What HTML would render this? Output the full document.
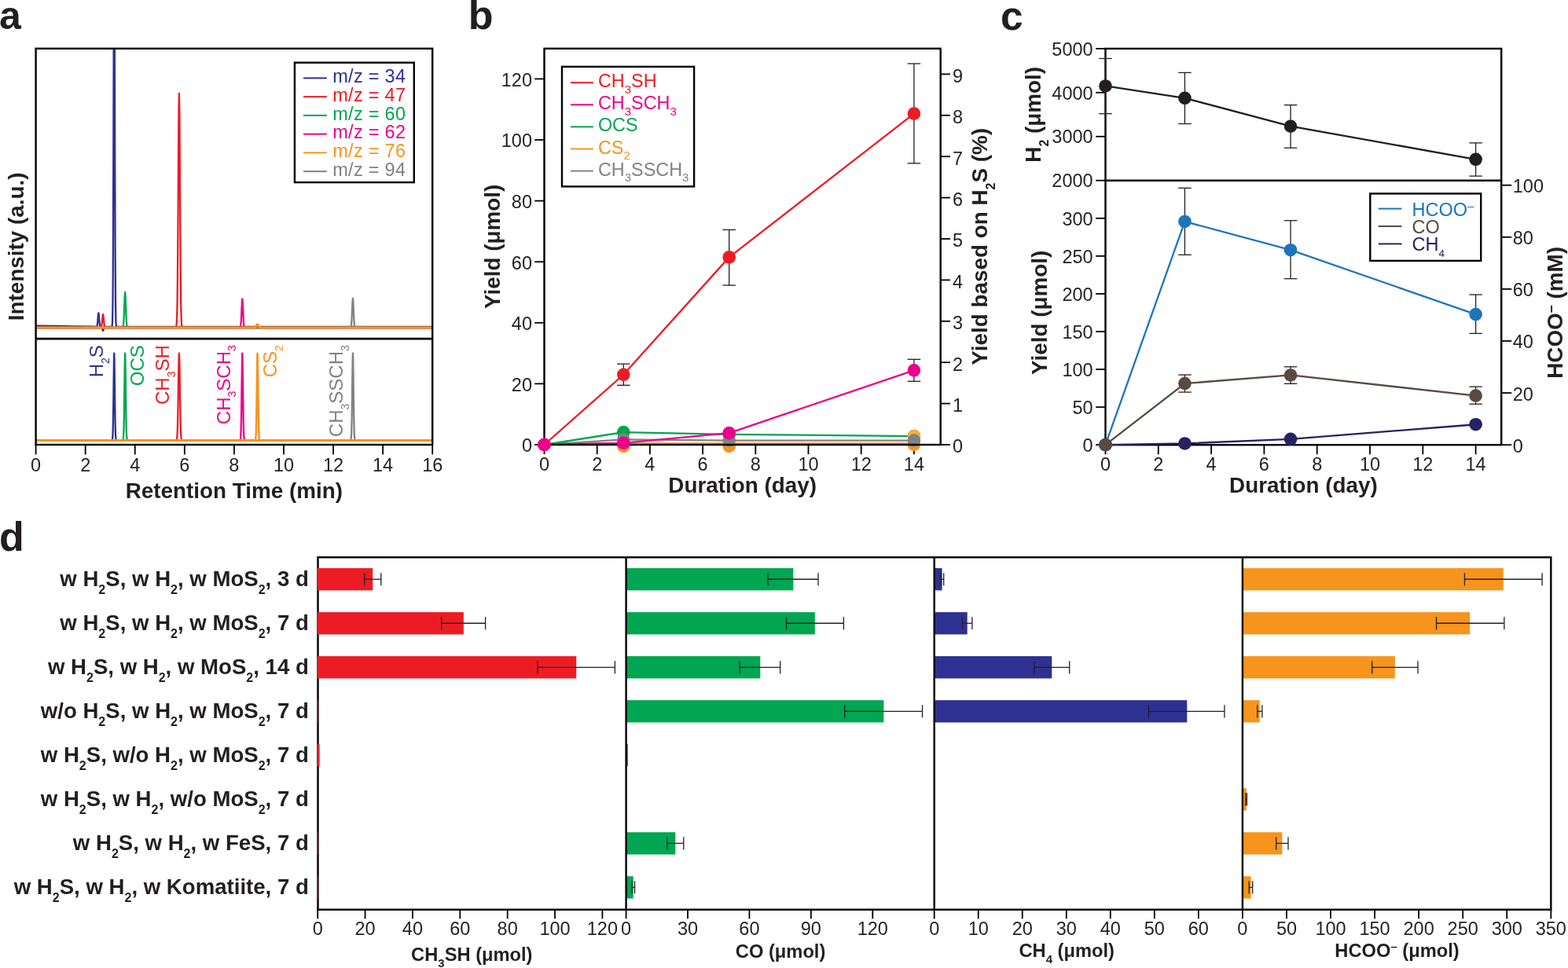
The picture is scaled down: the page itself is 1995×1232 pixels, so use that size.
<!DOCTYPE html>
<html><head><meta charset="utf-8"><title>Figure</title>
<style>html,body{margin:0;padding:0;background:#fff;} svg{display:block;} text{font-family:'Liberation Sans', sans-serif;}</style>
</head><body>
<svg width="1995" height="1232" viewBox="0 0 1995 1232">
<rect width="1995" height="1232" fill="#fff"/>
<text x="-1" y="37" font-size="50" text-anchor="start" font-weight="bold" fill="#231F20" >a</text>
<text x="595.8" y="36.6" font-size="52" text-anchor="start" font-weight="bold" fill="#231F20" >b</text>
<text x="1273" y="37.6" font-size="51.5" text-anchor="start" font-weight="bold" fill="#231F20" >c</text>
<text x="-1.1" y="701.2" font-size="52" text-anchor="start" font-weight="bold" fill="#231F20" >d</text>
<g>
<clipPath id="ca"><rect x="45.6" y="61.8" width="504.6" height="369.4"/></clipPath>
<clipPath id="cb"><rect x="45.6" y="431.2" width="504.6" height="134.8"/></clipPath>
<g clip-path="url(#ca)">
<polyline points="45.6,414.6 70.6,414.99 95.6,415.38 120.59,415.77 120.6,415.77 120.97,415.77 121.36,415.78 121.74,415.78 122.13,415.79 122.51,415.77 122.89,415.67 123.28,415.27 123.66,414.12 124.05,411.52 124.43,407.31 124.81,402.38 125.2,398.82 125.39,398.34 125.58,398.83 125.97,402.4 126.27,406.3 126.35,407.34 126.65,410.8 126.73,411.56 127.03,413.73 127.12,414.18 127.42,415.17 127.5,415.33 127.8,415.69 127.89,415.75 128.19,415.85 128.27,415.87 128.57,415.92 128.65,415.94 128.95,416.05 129.04,416.1 129.34,416.39 129.42,416.51 129.72,417.12 129.81,417.37 130.11,418.36 130.19,418.66 130.49,419.78 130.87,420.78 131.07,420.93 131.26,420.79 131.64,419.81 132.03,418.37 132.41,417.17 132.79,416.45 133.18,416.11 133.56,416.01 133.95,415.98 134.33,415.98 134.71,415.99 135.1,415.99 135.48,416 135.87,416 140.76,416 141.15,416 141.54,416 141.93,415.97 142.32,415.77 142.72,414.37 143.11,407.74 143.5,384 143.89,321.38 144.28,202.52 144.67,48.49 145.06,-66.79 145.26,-84 145.45,-67.96 145.6,-34.76 145.85,49.64 146.24,203.64 146.63,322.07 147.02,384.29 147.41,407.83 147.8,414.4 148.19,415.76 148.58,415.97 148.98,416 149.37,416 149.76,416 170.6,416 195.6,416 220.6,416 245.6,416 270.6,416 295.6,416 320.6,416 345.6,416 370.6,416 395.6,416 420.6,416 445.6,416 470.6,416 495.6,416 520.6,416 545.6,416 550.2,416" fill="none" stroke="#2E3192" stroke-width="2.3" stroke-linejoin="round"/>
<polyline points="45.6,417 125.67,417 126.05,417 126.44,417 126.82,417 127.21,417 127.6,416.99 127.98,416.95 128.37,416.81 128.75,416.38 129.14,415.28 129.52,413.12 129.91,409.56 130.3,405.17 130.68,401.5 131.07,400 131.07,400 131.45,401.47 131.84,405.25 132.22,409.52 132.61,413.09 133,415.31 133.38,416.38 133.77,416.81 134.15,416.95 134.54,416.99 134.92,417 135.31,417 135.7,417 136.08,417 136.47,417 221.29,417 221.67,417 222.06,417 222.45,417 222.84,416.99 223.23,416.96 223.62,416.84 224,416.42 224.39,415.09 224.78,411.48 225.17,402.89 225.56,385.18 225.95,353.75 226.33,307.53 226.72,247.21 227.11,184.76 227.5,136.86 227.89,119 227.89,119 228.27,136.55 228.66,184.24 229.05,246.64 229.44,307.04 229.83,354.41 230.22,385.58 230.6,402.77 230.99,411.43 231.38,415.08 231.77,416.41 232.16,416.84 232.55,416.96 232.93,416.99 233.32,417 233.71,417 234.1,417 234.49,417 550.2,417" fill="none" stroke="#ED1C24" stroke-width="2.3" stroke-linejoin="round"/>
<polyline points="45.6,417 153.44,417 153.83,417 154.22,417 154.61,417 155.01,417 155.4,416.98 155.79,416.91 156.19,416.63 156.58,415.79 156.97,413.65 157.37,408.99 157.76,401.21 158.15,390.71 158.55,379.77 158.94,372.94 159.13,372 159.33,372.94 159.72,379.77 160.12,390.71 160.51,401.21 160.9,408.99 161.3,413.65 161.69,415.79 162.08,416.63 162.48,416.91 162.87,416.98 163.26,417 163.66,417 164.05,417 164.44,417 164.84,417 550.2,417" fill="none" stroke="#00A651" stroke-width="2.3" stroke-linejoin="round"/>
<polyline points="45.6,417 302.91,417 303.29,417 303.68,417 304.06,417 304.45,417 304.84,416.98 305.22,416.9 305.61,416.59 305.99,415.67 306.38,413.32 306.76,408.67 307.15,401.03 307.54,391.62 307.92,383.73 308.31,380.5 308.31,380.5 308.69,383.65 309.08,391.75 309.46,400.93 309.85,408.6 310.24,413.36 310.62,415.66 311.01,416.6 311.39,416.9 311.78,416.98 312.16,417 312.55,417 312.94,417 313.32,417 313.71,417 550.2,417" fill="none" stroke="#EC008C" stroke-width="2.3" stroke-linejoin="round"/>
<polyline points="45.6,417 443.56,417 443.95,417 444.34,417 444.72,417 445.11,417 445.49,416.98 445.88,416.9 446.26,416.59 446.65,415.63 447.04,413.21 447.42,408.45 447.81,400.62 448.19,391.25 448.58,382.96 448.96,379.7 448.96,379.7 449.35,382.97 449.74,391.26 450.12,400.64 450.51,408.46 450.89,413.22 451.28,415.64 451.66,416.58 452.05,416.9 452.44,416.98 452.82,417 453.21,417 453.59,417 453.98,417 454.36,417 550.2,417" fill="none" stroke="#808285" stroke-width="2.3" stroke-linejoin="round"/>
<polyline points="45.6,417 318.55,417 318.94,417 319.33,417 319.72,417 320.11,417 320.5,417 320.89,417 321.28,417 321.68,417 322.07,416.99 322.46,416.99 322.85,416.97 323.24,416.93 323.63,416.87 324.02,416.75 324.41,416.55 324.81,416.24 325.2,415.82 325.59,415.29 325.98,414.68 326.37,414.06 326.76,413.51 327.15,413.14 327.55,413 327.55,413 327.94,413.14 328.33,413.51 328.72,414.06 329.11,414.68 329.5,415.29 329.89,415.82 330.28,416.24 330.68,416.55 331.07,416.75 331.46,416.87 331.85,416.93 332.24,416.97 332.63,416.99 333.02,416.99 333.41,417 333.81,417 334.2,417 334.59,417 334.98,417 335.37,417 335.76,417 336.15,417 336.55,417 550.2,417" fill="none" stroke="#F7941D" stroke-width="3.0" stroke-linejoin="round"/>
</g>
<g clip-path="url(#cb)">
<polyline points="45.6,560.4 140.76,560.4 141.15,560.4 141.54,560.4 141.93,560.39 142.32,560.35 142.72,560.04 143.11,558.57 143.5,553.31 143.89,539.43 144.28,513.09 144.67,478.96 145.06,453.41 145.26,449.6 145.45,453.15 145.85,479.22 146.24,513.34 146.63,539.58 147.02,553.37 147.41,558.59 147.8,560.04 148.19,560.35 148.58,560.39 148.98,560.4 149.37,560.4 149.76,560.4 550.2,560.4" fill="none" stroke="#2E3192" stroke-width="2.3" stroke-linejoin="round"/>
<polyline points="45.6,560.4 154.34,560.4 154.72,560.4 155.1,560.4 155.49,560.4 155.87,560.37 156.25,560.23 156.64,559.54 157.02,557.04 157.41,549.56 157.79,533.44 158.18,506.06 158.56,474.82 158.94,452.84 159.13,449.6 159.33,452.84 159.71,474.82 160.09,506.06 160.48,533.44 160.86,549.56 161.25,557.04 161.63,559.54 162.02,560.23 162.4,560.37 162.78,560.4 163.17,560.4 163.55,560.4 163.94,560.4 550.2,560.4" fill="none" stroke="#00A651" stroke-width="2.3" stroke-linejoin="round"/>
<polyline points="45.6,560.4 221.89,560.4 222.27,560.4 222.66,560.4 223.05,560.4 223.44,560.39 223.82,560.37 224.21,560.27 224.6,559.9 224.98,558.78 225.37,555.73 225.76,548.86 226.14,536.3 226.53,516.26 226.92,490.96 227.31,466.58 227.69,451.72 227.89,449.6 228.08,451.65 228.47,466.93 228.85,490.73 229.24,516.05 229.63,536.15 230.02,549.01 230.4,555.69 230.79,558.76 231.18,559.91 231.56,560.27 231.95,560.37 232.34,560.39 232.73,560.4 233.11,560.4 233.5,560.4 233.89,560.4 550.2,560.4" fill="none" stroke="#ED1C24" stroke-width="2.3" stroke-linejoin="round"/>
<polyline points="45.6,560.4 303.51,560.4 303.89,560.4 304.28,560.4 304.66,560.4 305.04,560.37 305.43,560.23 305.81,559.55 306.2,556.95 306.58,549.63 306.96,533.57 307.35,506.26 307.73,475 308.12,452.6 308.31,449.6 308.5,452.77 308.88,474.64 309.27,506.68 309.65,533.3 310.04,549.78 310.42,557.01 310.8,559.54 311.19,560.23 311.57,560.37 311.96,560.4 312.34,560.4 312.72,560.4 313.11,560.4 550.2,560.4" fill="none" stroke="#EC008C" stroke-width="2.3" stroke-linejoin="round"/>
<polyline points="45.6,560.4 444.16,560.4 444.55,560.4 444.93,560.4 445.32,560.4 445.7,560.37 446.08,560.23 446.47,559.54 446.85,557.03 447.24,549.55 447.62,533.42 448,506.84 448.39,474.79 448.77,452.83 448.96,449.6 449.16,452.86 449.54,474.85 449.92,506.09 450.31,533.46 450.69,549.57 451.08,557.04 451.46,559.55 451.84,560.23 452.23,560.37 452.61,560.4 453,560.4 453.38,560.4 453.76,560.4 550.2,560.4" fill="none" stroke="#808285" stroke-width="2.3" stroke-linejoin="round"/>
<polyline points="45.6,560.4 322.75,560.4 323.13,560.4 323.51,560.4 323.9,560.4 324.28,560.37 324.67,560.23 325.05,559.54 325.43,557.04 325.82,549.57 326.2,533.45 326.59,506.08 326.97,474.84 327.35,452.85 327.55,449.6 327.74,452.83 328.12,474.8 328.51,506.85 328.89,533.42 329.27,549.56 329.66,557.03 330.04,559.54 330.43,560.23 330.81,560.37 331.19,560.4 331.58,560.4 331.96,560.4 332.35,560.4 550.2,560.4" fill="none" stroke="#F7941D" stroke-width="2.4" stroke-linejoin="round"/>
<line x1="45.6" y1="560.4" x2="550.2" y2="560.4" stroke="#F7941D" stroke-width="3"/>
</g>
<rect x="45.6" y="61.8" width="504.6" height="504.2" fill="none" stroke="#000" stroke-width="2.4"/>
<line x1="45.6" y1="431.2" x2="550.2" y2="431.2" stroke="#000" stroke-width="2.8" />
<line x1="45.6" y1="566" x2="45.6" y2="578.5" stroke="#000" stroke-width="1.8" />
<text x="45.6" y="599.7" font-size="23.5" text-anchor="middle" font-weight="normal" fill="#231F20" >0</text>
<line x1="108.68" y1="566" x2="108.68" y2="578.5" stroke="#000" stroke-width="1.8" />
<text x="108.68" y="599.7" font-size="23.5" text-anchor="middle" font-weight="normal" fill="#231F20" >2</text>
<line x1="171.75" y1="566" x2="171.75" y2="578.5" stroke="#000" stroke-width="1.8" />
<text x="171.75" y="599.7" font-size="23.5" text-anchor="middle" font-weight="normal" fill="#231F20" >4</text>
<line x1="234.83" y1="566" x2="234.83" y2="578.5" stroke="#000" stroke-width="1.8" />
<text x="234.83" y="599.7" font-size="23.5" text-anchor="middle" font-weight="normal" fill="#231F20" >6</text>
<line x1="297.9" y1="566" x2="297.9" y2="578.5" stroke="#000" stroke-width="1.8" />
<text x="297.9" y="599.7" font-size="23.5" text-anchor="middle" font-weight="normal" fill="#231F20" >8</text>
<line x1="360.98" y1="566" x2="360.98" y2="578.5" stroke="#000" stroke-width="1.8" />
<text x="360.98" y="599.7" font-size="23.5" text-anchor="middle" font-weight="normal" fill="#231F20" >10</text>
<line x1="424.05" y1="566" x2="424.05" y2="578.5" stroke="#000" stroke-width="1.8" />
<text x="424.05" y="599.7" font-size="23.5" text-anchor="middle" font-weight="normal" fill="#231F20" >12</text>
<line x1="487.13" y1="566" x2="487.13" y2="578.5" stroke="#000" stroke-width="1.8" />
<text x="487.13" y="599.7" font-size="23.5" text-anchor="middle" font-weight="normal" fill="#231F20" >14</text>
<line x1="550.2" y1="566" x2="550.2" y2="578.5" stroke="#000" stroke-width="1.8" />
<text x="550.2" y="599.7" font-size="23.5" text-anchor="middle" font-weight="normal" fill="#231F20" >16</text>
<text x="297.9" y="634.1" font-size="27.85" text-anchor="middle" font-weight="bold" fill="#231F20" >Retention Time (min)</text>
<text transform="translate(30.3,313.9) rotate(-90)" font-size="27.85" text-anchor="middle" font-weight="bold" fill="#231F20" >Intensity (a.u.)</text>
<text transform="translate(131.3,439.2) rotate(-90)" font-size="24" text-anchor="end" font-weight="normal" fill="#2E3192" >H<tspan font-size="14" dy="8">2</tspan><tspan dy="-8">S</tspan></text>
<text transform="translate(183.2,439.2) rotate(-90)" font-size="24" text-anchor="end" font-weight="normal" fill="#00A651" >OCS</text>
<text transform="translate(215.2,439.2) rotate(-90)" font-size="24" text-anchor="end" font-weight="normal" fill="#ED1C24" >CH<tspan font-size="14" dy="7.5">3</tspan><tspan dy="-7.5">SH</tspan></text>
<text transform="translate(292.8,439.2) rotate(-90)" font-size="24" text-anchor="end" font-weight="normal" fill="#EC008C" >CH<tspan font-size="14" dy="7.5">3</tspan><tspan dy="-7.5">SCH<tspan font-size="14" dy="7.5">3</tspan></tspan></text>
<text transform="translate(352,439.2) rotate(-90)" font-size="24" text-anchor="end" font-weight="normal" fill="#F7941D" >CS<tspan font-size="14" dy="8">2</tspan></text>
<text transform="translate(436.3,439.2) rotate(-90)" font-size="24" text-anchor="end" font-weight="normal" fill="#808285" >CH<tspan font-size="14" dy="7.5">3</tspan><tspan dy="-7.5">SSCH<tspan font-size="14" dy="7.5">3</tspan></tspan></text>
<rect x="374.9" y="79.7" width="151.89999999999998" height="152.39999999999998" fill="#fff" stroke="#000" stroke-width="2.4"/>
<line x1="386" y1="99.4" x2="415.8" y2="99.4" stroke="#2E3192" stroke-width="2.0" />
<text x="423.2" y="105" font-size="23.5" text-anchor="start" font-weight="normal" fill="#2E3192" letter-spacing="0.3">m/z = 34</text>
<line x1="386" y1="123.15" x2="415.8" y2="123.15" stroke="#ED1C24" stroke-width="2.0" />
<text x="423.2" y="128.75" font-size="23.5" text-anchor="start" font-weight="normal" fill="#ED1C24" letter-spacing="0.3">m/z = 47</text>
<line x1="386" y1="146.9" x2="415.8" y2="146.9" stroke="#00A651" stroke-width="2.0" />
<text x="423.2" y="152.5" font-size="23.5" text-anchor="start" font-weight="normal" fill="#00A651" letter-spacing="0.3">m/z = 60</text>
<line x1="386" y1="170.65" x2="415.8" y2="170.65" stroke="#EC008C" stroke-width="2.0" />
<text x="423.2" y="176.25" font-size="23.5" text-anchor="start" font-weight="normal" fill="#EC008C" letter-spacing="0.3">m/z = 62</text>
<line x1="386" y1="194.4" x2="415.8" y2="194.4" stroke="#F7941D" stroke-width="2.0" />
<text x="423.2" y="200" font-size="23.5" text-anchor="start" font-weight="normal" fill="#F7941D" letter-spacing="0.3">m/z = 76</text>
<line x1="386" y1="218.15" x2="415.8" y2="218.15" stroke="#808285" stroke-width="2.0" />
<text x="423.2" y="223.75" font-size="23.5" text-anchor="start" font-weight="normal" fill="#808285" letter-spacing="0.3">m/z = 94</text>
</g>
<line x1="680.2" y1="566" x2="692.5" y2="566" stroke="#000" stroke-width="1.8" />
<text x="677" y="575.4" font-size="23.5" text-anchor="end" font-weight="normal" fill="#231F20" >0</text>
<line x1="680.2" y1="488.4" x2="692.5" y2="488.4" stroke="#000" stroke-width="1.8" />
<text x="677" y="497.8" font-size="23.5" text-anchor="end" font-weight="normal" fill="#231F20" >20</text>
<line x1="680.2" y1="410.8" x2="692.5" y2="410.8" stroke="#000" stroke-width="1.8" />
<text x="677" y="420.2" font-size="23.5" text-anchor="end" font-weight="normal" fill="#231F20" >40</text>
<line x1="680.2" y1="333.2" x2="692.5" y2="333.2" stroke="#000" stroke-width="1.8" />
<text x="677" y="342.6" font-size="23.5" text-anchor="end" font-weight="normal" fill="#231F20" >60</text>
<line x1="680.2" y1="255.6" x2="692.5" y2="255.6" stroke="#000" stroke-width="1.8" />
<text x="677" y="265" font-size="23.5" text-anchor="end" font-weight="normal" fill="#231F20" >80</text>
<line x1="680.2" y1="178" x2="692.5" y2="178" stroke="#000" stroke-width="1.8" />
<text x="677" y="187.4" font-size="23.5" text-anchor="end" font-weight="normal" fill="#231F20" >100</text>
<line x1="680.2" y1="100.4" x2="692.5" y2="100.4" stroke="#000" stroke-width="1.8" />
<text x="677" y="109.8" font-size="23.5" text-anchor="end" font-weight="normal" fill="#231F20" >120</text>
<line x1="1196.7" y1="566" x2="1209" y2="566" stroke="#000" stroke-width="1.8" />
<text x="1212.1" y="576.4" font-size="23.5" text-anchor="start" font-weight="normal" fill="#231F20" >0</text>
<line x1="1196.7" y1="513.6" x2="1209" y2="513.6" stroke="#000" stroke-width="1.8" />
<text x="1212.1" y="524" font-size="23.5" text-anchor="start" font-weight="normal" fill="#231F20" >1</text>
<line x1="1196.7" y1="461.2" x2="1209" y2="461.2" stroke="#000" stroke-width="1.8" />
<text x="1212.1" y="471.6" font-size="23.5" text-anchor="start" font-weight="normal" fill="#231F20" >2</text>
<line x1="1196.7" y1="408.8" x2="1209" y2="408.8" stroke="#000" stroke-width="1.8" />
<text x="1212.1" y="419.2" font-size="23.5" text-anchor="start" font-weight="normal" fill="#231F20" >3</text>
<line x1="1196.7" y1="356.4" x2="1209" y2="356.4" stroke="#000" stroke-width="1.8" />
<text x="1212.1" y="366.8" font-size="23.5" text-anchor="start" font-weight="normal" fill="#231F20" >4</text>
<line x1="1196.7" y1="304" x2="1209" y2="304" stroke="#000" stroke-width="1.8" />
<text x="1212.1" y="314.4" font-size="23.5" text-anchor="start" font-weight="normal" fill="#231F20" >5</text>
<line x1="1196.7" y1="251.6" x2="1209" y2="251.6" stroke="#000" stroke-width="1.8" />
<text x="1212.1" y="262" font-size="23.5" text-anchor="start" font-weight="normal" fill="#231F20" >6</text>
<line x1="1196.7" y1="199.2" x2="1209" y2="199.2" stroke="#000" stroke-width="1.8" />
<text x="1212.1" y="209.6" font-size="23.5" text-anchor="start" font-weight="normal" fill="#231F20" >7</text>
<line x1="1196.7" y1="146.8" x2="1209" y2="146.8" stroke="#000" stroke-width="1.8" />
<text x="1212.1" y="157.2" font-size="23.5" text-anchor="start" font-weight="normal" fill="#231F20" >8</text>
<line x1="1196.7" y1="94.4" x2="1209" y2="94.4" stroke="#000" stroke-width="1.8" />
<text x="1212.1" y="104.8" font-size="23.5" text-anchor="start" font-weight="normal" fill="#231F20" >9</text>
<line x1="692.5" y1="566" x2="692.5" y2="578.2" stroke="#000" stroke-width="1.8" />
<text x="692.5" y="599" font-size="23.5" text-anchor="middle" font-weight="normal" fill="#231F20" >0</text>
<line x1="759.7" y1="566" x2="759.7" y2="578.2" stroke="#000" stroke-width="1.8" />
<text x="759.7" y="599" font-size="23.5" text-anchor="middle" font-weight="normal" fill="#231F20" >2</text>
<line x1="826.9" y1="566" x2="826.9" y2="578.2" stroke="#000" stroke-width="1.8" />
<text x="826.9" y="599" font-size="23.5" text-anchor="middle" font-weight="normal" fill="#231F20" >4</text>
<line x1="894.1" y1="566" x2="894.1" y2="578.2" stroke="#000" stroke-width="1.8" />
<text x="894.1" y="599" font-size="23.5" text-anchor="middle" font-weight="normal" fill="#231F20" >6</text>
<line x1="961.3" y1="566" x2="961.3" y2="578.2" stroke="#000" stroke-width="1.8" />
<text x="961.3" y="599" font-size="23.5" text-anchor="middle" font-weight="normal" fill="#231F20" >8</text>
<line x1="1028.5" y1="566" x2="1028.5" y2="578.2" stroke="#000" stroke-width="1.8" />
<text x="1028.5" y="599" font-size="23.5" text-anchor="middle" font-weight="normal" fill="#231F20" >10</text>
<line x1="1095.7" y1="566" x2="1095.7" y2="578.2" stroke="#000" stroke-width="1.8" />
<text x="1095.7" y="599" font-size="23.5" text-anchor="middle" font-weight="normal" fill="#231F20" >12</text>
<line x1="1162.9" y1="566" x2="1162.9" y2="578.2" stroke="#000" stroke-width="1.8" />
<text x="1162.9" y="599" font-size="23.5" text-anchor="middle" font-weight="normal" fill="#231F20" >14</text>
<text x="944.7" y="626.7" font-size="27.85" text-anchor="middle" font-weight="bold" fill="#231F20" >Duration (day)</text>
<text transform="translate(635.7,313.9) rotate(-90)" font-size="27.85" text-anchor="middle" font-weight="bold" fill="#231F20" >Yield (μmol)</text>
<text transform="translate(1256.2,313.9) rotate(-90)" font-size="27.85" text-anchor="middle" font-weight="bold" fill="#231F20" >Yield based on H<tspan font-size="16" dy="10">2</tspan><tspan dy="-10">S (%)</tspan></text>
<line x1="793.3" y1="463.18" x2="793.3" y2="490.34" stroke="#231F20" stroke-width="1.3" />
<line x1="785.05" y1="463.18" x2="801.55" y2="463.18" stroke="#231F20" stroke-width="1.3" />
<line x1="785.05" y1="490.34" x2="801.55" y2="490.34" stroke="#231F20" stroke-width="1.3" />
<line x1="927.7" y1="292.46" x2="927.7" y2="363.08" stroke="#231F20" stroke-width="1.3" />
<line x1="919.45" y1="292.46" x2="935.95" y2="292.46" stroke="#231F20" stroke-width="1.3" />
<line x1="919.45" y1="363.08" x2="935.95" y2="363.08" stroke="#231F20" stroke-width="1.3" />
<line x1="1162.9" y1="81" x2="1162.9" y2="207.88" stroke="#231F20" stroke-width="1.3" />
<line x1="1154.65" y1="81" x2="1171.15" y2="81" stroke="#231F20" stroke-width="1.3" />
<line x1="1154.65" y1="207.88" x2="1171.15" y2="207.88" stroke="#231F20" stroke-width="1.3" />
<line x1="1162.9" y1="457.36" x2="1162.9" y2="485.3" stroke="#231F20" stroke-width="1.3" />
<line x1="1154.65" y1="457.36" x2="1171.15" y2="457.36" stroke="#231F20" stroke-width="1.3" />
<line x1="1154.65" y1="485.3" x2="1171.15" y2="485.3" stroke="#231F20" stroke-width="1.3" />
<polyline points="692.5,566 793.3,564.45 927.7,564.45 1162.9,564.45" fill="none" stroke="#F7941D" stroke-width="2.3" stroke-linejoin="round"/>
<polyline points="692.5,566 793.3,559.4 927.7,560.57 1162.9,560.57" fill="none" stroke="#808285" stroke-width="2.3" stroke-linejoin="round"/>
<polyline points="692.5,566 793.3,550.09 927.7,552.81 1162.9,555.14" fill="none" stroke="#00A651" stroke-width="2.3" stroke-linejoin="round"/>
<polyline points="692.5,566 793.3,476.76 927.7,327.38 1162.9,144.63" fill="none" stroke="#ED1C24" stroke-width="2.3" stroke-linejoin="round"/>
<polyline points="692.5,566 793.3,563.79 927.7,551.1 1162.9,471.33" fill="none" stroke="#EC008C" stroke-width="2.3" stroke-linejoin="round"/>
<circle cx="793.3" cy="567.94" r="8.3" fill="#F7941D"/>
<circle cx="927.7" cy="567.94" r="8.3" fill="#F7941D"/>
<circle cx="1162.9" cy="566" r="8.3" fill="#F7941D"/>
<circle cx="692.5" cy="566" r="8.3" fill="#00A651"/>
<circle cx="793.3" cy="550.09" r="8.3" fill="#00A651"/>
<circle cx="927.7" cy="552.81" r="8.3" fill="#00A651"/>
<circle cx="1162.9" cy="555.14" r="8.3" fill="#00A651"/>
<circle cx="1162.9" cy="554.94" r="8.3" fill="#F4B03A"/>
<circle cx="692.5" cy="566" r="8.3" fill="#808285"/>
<circle cx="793.3" cy="559.4" r="8.3" fill="#808285"/>
<circle cx="927.7" cy="560.57" r="8.3" fill="#808285"/>
<circle cx="1162.9" cy="560.57" r="8.3" fill="#808285"/>
<rect x="692.5" y="61.8" width="504.20000000000005" height="504.2" fill="none" stroke="#000" stroke-width="2.4"/>
<circle cx="692.5" cy="566" r="8.3" fill="#ED1C24"/>
<circle cx="793.3" cy="476.76" r="8.3" fill="#ED1C24"/>
<circle cx="927.7" cy="327.38" r="8.3" fill="#ED1C24"/>
<circle cx="1162.9" cy="144.63" r="8.3" fill="#ED1C24"/>
<circle cx="692.5" cy="566" r="8.3" fill="#EC008C"/>
<circle cx="793.3" cy="563.79" r="8.3" fill="#EC008C"/>
<circle cx="927.7" cy="551.1" r="8.3" fill="#EC008C"/>
<circle cx="1162.9" cy="471.33" r="8.3" fill="#EC008C"/>
<rect x="715" y="84.9" width="168.10000000000002" height="152.5" fill="#fff" stroke="#000" stroke-width="2.4"/>
<line x1="726" y1="105.2" x2="754.8" y2="105.2" stroke="#ED1C24" stroke-width="2.0" />
<text x="760.9" y="111.2" font-size="23.4" text-anchor="start" font-weight="normal" fill="#ED1C24" >CH<tspan font-size="15" dy="7.5">3</tspan><tspan dy="-7.5">SH</tspan></text>
<line x1="726" y1="133.3" x2="754.8" y2="133.3" stroke="#EC008C" stroke-width="2.0" />
<text x="760.9" y="139.3" font-size="23.4" text-anchor="start" font-weight="normal" fill="#EC008C" >CH<tspan font-size="15" dy="7.5">3</tspan><tspan dy="-7.5">SCH<tspan font-size="15" dy="7.5">3</tspan></tspan></text>
<line x1="726" y1="161.4" x2="754.8" y2="161.4" stroke="#00A651" stroke-width="2.0" />
<text x="760.9" y="167.4" font-size="23.4" text-anchor="start" font-weight="normal" fill="#00A651" >OCS</text>
<line x1="726" y1="189.5" x2="754.8" y2="189.5" stroke="#F7941D" stroke-width="2.0" />
<text x="760.9" y="195.5" font-size="23.4" text-anchor="start" font-weight="normal" fill="#F7941D" >CS<tspan font-size="15" dy="7.5">2</tspan></text>
<line x1="726" y1="217.6" x2="754.8" y2="217.6" stroke="#808285" stroke-width="2.0" />
<text x="760.9" y="223.6" font-size="23.4" text-anchor="start" font-weight="normal" fill="#808285" >CH<tspan font-size="15" dy="7.5">3</tspan><tspan dy="-7.5">SSCH<tspan font-size="15" dy="7.5">3</tspan></tspan></text>
<rect x="1406.5" y="61.9" width="503.70000000000005" height="504.30000000000007" fill="none" stroke="#000" stroke-width="2.4"/>
<line x1="1406.5" y1="229.7" x2="1910.2" y2="229.7" stroke="#000" stroke-width="2.4" />
<line x1="1394.2" y1="229.7" x2="1406.5" y2="229.7" stroke="#000" stroke-width="1.8" />
<text x="1390.6" y="238.4" font-size="23.5" text-anchor="end" font-weight="normal" fill="#231F20" >2000</text>
<line x1="1394.2" y1="173.77" x2="1406.5" y2="173.77" stroke="#000" stroke-width="1.8" />
<text x="1390.6" y="182.47" font-size="23.5" text-anchor="end" font-weight="normal" fill="#231F20" >3000</text>
<line x1="1394.2" y1="117.83" x2="1406.5" y2="117.83" stroke="#000" stroke-width="1.8" />
<text x="1390.6" y="126.53" font-size="23.5" text-anchor="end" font-weight="normal" fill="#231F20" >4000</text>
<line x1="1394.2" y1="61.9" x2="1406.5" y2="61.9" stroke="#000" stroke-width="1.8" />
<text x="1390.6" y="70.6" font-size="23.5" text-anchor="end" font-weight="normal" fill="#231F20" >5000</text>
<line x1="1394.2" y1="566.2" x2="1406.5" y2="566.2" stroke="#000" stroke-width="1.8" />
<text x="1390.6" y="574.9" font-size="23.5" text-anchor="end" font-weight="normal" fill="#231F20" >0</text>
<line x1="1394.2" y1="518.13" x2="1406.5" y2="518.13" stroke="#000" stroke-width="1.8" />
<text x="1390.6" y="526.84" font-size="23.5" text-anchor="end" font-weight="normal" fill="#231F20" >50</text>
<line x1="1394.2" y1="470.07" x2="1406.5" y2="470.07" stroke="#000" stroke-width="1.8" />
<text x="1390.6" y="478.77" font-size="23.5" text-anchor="end" font-weight="normal" fill="#231F20" >100</text>
<line x1="1394.2" y1="422.01" x2="1406.5" y2="422.01" stroke="#000" stroke-width="1.8" />
<text x="1390.6" y="430.71" font-size="23.5" text-anchor="end" font-weight="normal" fill="#231F20" >150</text>
<line x1="1394.2" y1="373.94" x2="1406.5" y2="373.94" stroke="#000" stroke-width="1.8" />
<text x="1390.6" y="382.64" font-size="23.5" text-anchor="end" font-weight="normal" fill="#231F20" >200</text>
<line x1="1394.2" y1="325.88" x2="1406.5" y2="325.88" stroke="#000" stroke-width="1.8" />
<text x="1390.6" y="334.57" font-size="23.5" text-anchor="end" font-weight="normal" fill="#231F20" >250</text>
<line x1="1394.2" y1="277.81" x2="1406.5" y2="277.81" stroke="#000" stroke-width="1.8" />
<text x="1390.6" y="286.51" font-size="23.5" text-anchor="end" font-weight="normal" fill="#231F20" >300</text>
<line x1="1910.2" y1="566.2" x2="1923.2" y2="566.2" stroke="#000" stroke-width="1.8" />
<text x="1924.8" y="575.6" font-size="23.5" text-anchor="start" font-weight="normal" fill="#231F20" >0</text>
<line x1="1910.2" y1="500.1" x2="1923.2" y2="500.1" stroke="#000" stroke-width="1.8" />
<text x="1924.8" y="509.5" font-size="23.5" text-anchor="start" font-weight="normal" fill="#231F20" >20</text>
<line x1="1910.2" y1="434" x2="1923.2" y2="434" stroke="#000" stroke-width="1.8" />
<text x="1924.8" y="443.4" font-size="23.5" text-anchor="start" font-weight="normal" fill="#231F20" >40</text>
<line x1="1910.2" y1="367.9" x2="1923.2" y2="367.9" stroke="#000" stroke-width="1.8" />
<text x="1924.8" y="377.3" font-size="23.5" text-anchor="start" font-weight="normal" fill="#231F20" >60</text>
<line x1="1910.2" y1="301.8" x2="1923.2" y2="301.8" stroke="#000" stroke-width="1.8" />
<text x="1924.8" y="311.2" font-size="23.5" text-anchor="start" font-weight="normal" fill="#231F20" >80</text>
<line x1="1910.2" y1="235.7" x2="1923.2" y2="235.7" stroke="#000" stroke-width="1.8" />
<text x="1924.8" y="245.1" font-size="23.5" text-anchor="start" font-weight="normal" fill="#231F20" >100</text>
<line x1="1406.5" y1="566.2" x2="1406.5" y2="578.3" stroke="#000" stroke-width="1.8" />
<text x="1406.5" y="599" font-size="23.5" text-anchor="middle" font-weight="normal" fill="#231F20" >0</text>
<line x1="1473.8" y1="566.2" x2="1473.8" y2="578.3" stroke="#000" stroke-width="1.8" />
<text x="1473.8" y="599" font-size="23.5" text-anchor="middle" font-weight="normal" fill="#231F20" >2</text>
<line x1="1541.1" y1="566.2" x2="1541.1" y2="578.3" stroke="#000" stroke-width="1.8" />
<text x="1541.1" y="599" font-size="23.5" text-anchor="middle" font-weight="normal" fill="#231F20" >4</text>
<line x1="1608.4" y1="566.2" x2="1608.4" y2="578.3" stroke="#000" stroke-width="1.8" />
<text x="1608.4" y="599" font-size="23.5" text-anchor="middle" font-weight="normal" fill="#231F20" >6</text>
<line x1="1675.7" y1="566.2" x2="1675.7" y2="578.3" stroke="#000" stroke-width="1.8" />
<text x="1675.7" y="599" font-size="23.5" text-anchor="middle" font-weight="normal" fill="#231F20" >8</text>
<line x1="1743" y1="566.2" x2="1743" y2="578.3" stroke="#000" stroke-width="1.8" />
<text x="1743" y="599" font-size="23.5" text-anchor="middle" font-weight="normal" fill="#231F20" >10</text>
<line x1="1810.3" y1="566.2" x2="1810.3" y2="578.3" stroke="#000" stroke-width="1.8" />
<text x="1810.3" y="599" font-size="23.5" text-anchor="middle" font-weight="normal" fill="#231F20" >12</text>
<line x1="1877.6" y1="566.2" x2="1877.6" y2="578.3" stroke="#000" stroke-width="1.8" />
<text x="1877.6" y="599" font-size="23.5" text-anchor="middle" font-weight="normal" fill="#231F20" >14</text>
<text x="1658.4" y="626.7" font-size="27.85" text-anchor="middle" font-weight="bold" fill="#231F20" >Duration (day)</text>
<text transform="translate(1324.3,145.8) rotate(-90)" font-size="27.85" text-anchor="middle" font-weight="bold" fill="#231F20" >H<tspan font-size="16" dy="9.5">2</tspan><tspan dy="-9.5"> (μmol)</tspan></text>
<text transform="translate(1331.6,397.95) rotate(-90)" font-size="27.85" text-anchor="middle" font-weight="bold" fill="#231F20" >Yield (μmol)</text>
<text transform="translate(1987.8,397.95) rotate(-90)" font-size="27.85" text-anchor="middle" font-weight="bold" fill="#231F20" >HCOO<tspan font-size="18" dy="-9">–</tspan><tspan dy="9"> (mM)</tspan></text>
<line x1="1406.5" y1="74.49" x2="1406.5" y2="144.68" stroke="#231F20" stroke-width="1.3" />
<line x1="1398.25" y1="74.49" x2="1414.75" y2="74.49" stroke="#231F20" stroke-width="1.3" />
<line x1="1398.25" y1="144.68" x2="1414.75" y2="144.68" stroke="#231F20" stroke-width="1.3" />
<line x1="1507.45" y1="92.44" x2="1507.45" y2="157.55" stroke="#231F20" stroke-width="1.3" />
<line x1="1499.2" y1="92.44" x2="1515.7" y2="92.44" stroke="#231F20" stroke-width="1.3" />
<line x1="1499.2" y1="157.55" x2="1515.7" y2="157.55" stroke="#231F20" stroke-width="1.3" />
<line x1="1642.05" y1="133.66" x2="1642.05" y2="188.25" stroke="#231F20" stroke-width="1.3" />
<line x1="1633.8" y1="133.66" x2="1650.3" y2="133.66" stroke="#231F20" stroke-width="1.3" />
<line x1="1633.8" y1="188.25" x2="1650.3" y2="188.25" stroke="#231F20" stroke-width="1.3" />
<line x1="1877.6" y1="181.88" x2="1877.6" y2="224.11" stroke="#231F20" stroke-width="1.3" />
<line x1="1869.35" y1="181.88" x2="1885.85" y2="181.88" stroke="#231F20" stroke-width="1.3" />
<line x1="1869.35" y1="224.11" x2="1885.85" y2="224.11" stroke="#231F20" stroke-width="1.3" />
<polyline points="1406.5,109.44 1507.45,124.83 1642.05,160.68 1877.6,202.85" fill="none" stroke="#231F20" stroke-width="2.3" stroke-linejoin="round"/>
<circle cx="1406.5" cy="109.44" r="8.3" fill="#231F20"/>
<circle cx="1507.45" cy="124.83" r="8.3" fill="#231F20"/>
<circle cx="1642.05" cy="160.68" r="8.3" fill="#231F20"/>
<circle cx="1877.6" cy="202.85" r="8.3" fill="#231F20"/>
<line x1="1507.45" y1="239.36" x2="1507.45" y2="324.34" stroke="#231F20" stroke-width="1.3" />
<line x1="1499.2" y1="239.36" x2="1515.7" y2="239.36" stroke="#231F20" stroke-width="1.3" />
<line x1="1499.2" y1="324.34" x2="1515.7" y2="324.34" stroke="#231F20" stroke-width="1.3" />
<line x1="1642.05" y1="280.69" x2="1642.05" y2="354.71" stroke="#231F20" stroke-width="1.3" />
<line x1="1633.8" y1="280.69" x2="1650.3" y2="280.69" stroke="#231F20" stroke-width="1.3" />
<line x1="1633.8" y1="354.71" x2="1650.3" y2="354.71" stroke="#231F20" stroke-width="1.3" />
<line x1="1877.6" y1="375" x2="1877.6" y2="424.41" stroke="#231F20" stroke-width="1.3" />
<line x1="1869.35" y1="375" x2="1885.85" y2="375" stroke="#231F20" stroke-width="1.3" />
<line x1="1869.35" y1="424.41" x2="1885.85" y2="424.41" stroke="#231F20" stroke-width="1.3" />
<line x1="1507.45" y1="477.09" x2="1507.45" y2="499.1" stroke="#231F20" stroke-width="1.3" />
<line x1="1499.2" y1="477.09" x2="1515.7" y2="477.09" stroke="#231F20" stroke-width="1.3" />
<line x1="1499.2" y1="499.1" x2="1515.7" y2="499.1" stroke="#231F20" stroke-width="1.3" />
<line x1="1642.05" y1="466.8" x2="1642.05" y2="488.33" stroke="#231F20" stroke-width="1.3" />
<line x1="1633.8" y1="466.8" x2="1650.3" y2="466.8" stroke="#231F20" stroke-width="1.3" />
<line x1="1633.8" y1="488.33" x2="1650.3" y2="488.33" stroke="#231F20" stroke-width="1.3" />
<line x1="1877.6" y1="492.18" x2="1877.6" y2="514.29" stroke="#231F20" stroke-width="1.3" />
<line x1="1869.35" y1="492.18" x2="1885.85" y2="492.18" stroke="#231F20" stroke-width="1.3" />
<line x1="1869.35" y1="514.29" x2="1885.85" y2="514.29" stroke="#231F20" stroke-width="1.3" />
<polyline points="1406.5,566.2 1507.45,564.47 1642.05,558.8 1877.6,540.24" fill="none" stroke="#262262" stroke-width="2.3" stroke-linejoin="round"/>
<polyline points="1406.5,566.2 1507.45,281.94 1642.05,318.18 1877.6,400.09" fill="none" stroke="#1C75BC" stroke-width="2.3" stroke-linejoin="round"/>
<polyline points="1406.5,566.2 1507.45,488.05 1642.05,477.47 1877.6,503.52" fill="none" stroke="#594A42" stroke-width="2.3" stroke-linejoin="round"/>
<circle cx="1406.5" cy="566.2" r="8.3" fill="#262262"/>
<circle cx="1507.45" cy="564.47" r="8.3" fill="#262262"/>
<circle cx="1642.05" cy="558.8" r="8.3" fill="#262262"/>
<circle cx="1877.6" cy="540.24" r="8.3" fill="#262262"/>
<circle cx="1406.5" cy="566.2" r="8.3" fill="#1C75BC"/>
<circle cx="1507.45" cy="281.94" r="8.3" fill="#1C75BC"/>
<circle cx="1642.05" cy="318.18" r="8.3" fill="#1C75BC"/>
<circle cx="1877.6" cy="400.09" r="8.3" fill="#1C75BC"/>
<circle cx="1406.5" cy="566.2" r="8.3" fill="#594A42"/>
<circle cx="1507.45" cy="488.05" r="8.3" fill="#594A42"/>
<circle cx="1642.05" cy="477.47" r="8.3" fill="#594A42"/>
<circle cx="1877.6" cy="503.52" r="8.3" fill="#594A42"/>
<rect x="1743.3" y="246.4" width="140.9000000000001" height="85.49999999999997" fill="#fff" stroke="#000" stroke-width="2.4"/>
<line x1="1753.7" y1="265.6" x2="1783.5" y2="265.6" stroke="#1C75BC" stroke-width="2.0" />
<text x="1796.5" y="274.6" font-size="23.5" text-anchor="start" font-weight="normal" fill="#1C75BC" >HCOO<tspan font-size="15" dy="-8">–</tspan></text>
<line x1="1753.7" y1="288" x2="1783.5" y2="288" stroke="#594A42" stroke-width="2.0" />
<text x="1796.5" y="297" font-size="23.5" text-anchor="start" font-weight="normal" fill="#594A42" >CO</text>
<line x1="1753.7" y1="310.4" x2="1783.5" y2="310.4" stroke="#262262" stroke-width="2.0" />
<text x="1796.5" y="319.4" font-size="23.5" text-anchor="start" font-weight="normal" fill="#262262" >CH<tspan font-size="13.5" dy="8">4</tspan></text>
<rect x="796.6" y="723.1" width="212.78" height="28.3" fill="#00A651"/>
<rect x="1188.7" y="723.1" width="9.92" height="28.3" fill="#2E3192"/>
<rect x="1580.9" y="723.1" width="331.86" height="28.3" fill="#F7941D"/>
<rect x="796.6" y="779.12" width="240.23" height="28.3" fill="#00A651"/>
<rect x="1188.7" y="779.12" width="42.02" height="28.3" fill="#2E3192"/>
<rect x="1580.9" y="779.12" width="289.25" height="28.3" fill="#F7941D"/>
<rect x="796.6" y="835.14" width="170.69" height="28.3" fill="#00A651"/>
<rect x="1188.7" y="835.14" width="149.6" height="28.3" fill="#2E3192"/>
<rect x="1580.9" y="835.14" width="193.96" height="28.3" fill="#F7941D"/>
<rect x="796.6" y="891.16" width="327.8" height="28.3" fill="#00A651"/>
<rect x="1188.7" y="891.16" width="321.6" height="28.3" fill="#2E3192"/>
<rect x="1580.9" y="891.16" width="21.86" height="28.3" fill="#F7941D"/>
<rect x="796.6" y="947.18" width="2.4" height="28.3" fill="#00A651"/>
<rect x="1580.9" y="1003.2" width="4.93" height="28.3" fill="#F7941D"/>
<rect x="796.6" y="1059.22" width="62.74" height="28.3" fill="#00A651"/>
<rect x="1580.9" y="1059.22" width="50.45" height="28.3" fill="#F7941D"/>
<rect x="796.6" y="1115.24" width="9.15" height="28.3" fill="#00A651"/>
<rect x="1580.9" y="1115.24" width="10.76" height="28.3" fill="#F7941D"/>
<line x1="404.2" y1="1157.7" x2="404.2" y2="1169.3" stroke="#000" stroke-width="1.8" />
<text x="404.2" y="1189.6" font-size="23.5" text-anchor="middle" font-weight="normal" fill="#231F20" >0</text>
<line x1="464.57" y1="1157.7" x2="464.57" y2="1169.3" stroke="#000" stroke-width="1.8" />
<text x="464.57" y="1189.6" font-size="23.5" text-anchor="middle" font-weight="normal" fill="#231F20" >20</text>
<line x1="524.94" y1="1157.7" x2="524.94" y2="1169.3" stroke="#000" stroke-width="1.8" />
<text x="524.94" y="1189.6" font-size="23.5" text-anchor="middle" font-weight="normal" fill="#231F20" >40</text>
<line x1="585.31" y1="1157.7" x2="585.31" y2="1169.3" stroke="#000" stroke-width="1.8" />
<text x="585.31" y="1189.6" font-size="23.5" text-anchor="middle" font-weight="normal" fill="#231F20" >60</text>
<line x1="645.68" y1="1157.7" x2="645.68" y2="1169.3" stroke="#000" stroke-width="1.8" />
<text x="645.68" y="1189.6" font-size="23.5" text-anchor="middle" font-weight="normal" fill="#231F20" >80</text>
<line x1="706.05" y1="1157.7" x2="706.05" y2="1169.3" stroke="#000" stroke-width="1.8" />
<text x="706.05" y="1189.6" font-size="23.5" text-anchor="middle" font-weight="normal" fill="#231F20" >100</text>
<line x1="766.42" y1="1157.7" x2="766.42" y2="1169.3" stroke="#000" stroke-width="1.8" />
<text x="766.42" y="1189.6" font-size="23.5" text-anchor="middle" font-weight="normal" fill="#231F20" >120</text>
<text x="600.3" y="1222.9" font-size="23.7" text-anchor="middle" font-weight="bold" fill="#231F20" >CH<tspan font-size="15" dy="8">3</tspan><tspan dy="-8">SH (μmol)</tspan></text>
<line x1="796.6" y1="1157.7" x2="796.6" y2="1169.3" stroke="#000" stroke-width="1.8" />
<text x="796.6" y="1189.6" font-size="23.5" text-anchor="middle" font-weight="normal" fill="#231F20" >0</text>
<line x1="875.02" y1="1157.7" x2="875.02" y2="1169.3" stroke="#000" stroke-width="1.8" />
<text x="875.02" y="1189.6" font-size="23.5" text-anchor="middle" font-weight="normal" fill="#231F20" >30</text>
<line x1="953.44" y1="1157.7" x2="953.44" y2="1169.3" stroke="#000" stroke-width="1.8" />
<text x="953.44" y="1189.6" font-size="23.5" text-anchor="middle" font-weight="normal" fill="#231F20" >60</text>
<line x1="1031.86" y1="1157.7" x2="1031.86" y2="1169.3" stroke="#000" stroke-width="1.8" />
<text x="1031.86" y="1189.6" font-size="23.5" text-anchor="middle" font-weight="normal" fill="#231F20" >90</text>
<line x1="1110.28" y1="1157.7" x2="1110.28" y2="1169.3" stroke="#000" stroke-width="1.8" />
<text x="1110.28" y="1189.6" font-size="23.5" text-anchor="middle" font-weight="normal" fill="#231F20" >120</text>
<text x="993.1" y="1219" font-size="23.7" text-anchor="middle" font-weight="bold" fill="#231F20" >CO (μmol)</text>
<line x1="1188.7" y1="1157.7" x2="1188.7" y2="1169.3" stroke="#000" stroke-width="1.8" />
<text x="1188.7" y="1189.6" font-size="23.5" text-anchor="middle" font-weight="normal" fill="#231F20" >0</text>
<line x1="1244.73" y1="1157.7" x2="1244.73" y2="1169.3" stroke="#000" stroke-width="1.8" />
<text x="1244.73" y="1189.6" font-size="23.5" text-anchor="middle" font-weight="normal" fill="#231F20" >10</text>
<line x1="1300.76" y1="1157.7" x2="1300.76" y2="1169.3" stroke="#000" stroke-width="1.8" />
<text x="1300.76" y="1189.6" font-size="23.5" text-anchor="middle" font-weight="normal" fill="#231F20" >20</text>
<line x1="1356.79" y1="1157.7" x2="1356.79" y2="1169.3" stroke="#000" stroke-width="1.8" />
<text x="1356.79" y="1189.6" font-size="23.5" text-anchor="middle" font-weight="normal" fill="#231F20" >30</text>
<line x1="1412.81" y1="1157.7" x2="1412.81" y2="1169.3" stroke="#000" stroke-width="1.8" />
<text x="1412.81" y="1189.6" font-size="23.5" text-anchor="middle" font-weight="normal" fill="#231F20" >40</text>
<line x1="1468.84" y1="1157.7" x2="1468.84" y2="1169.3" stroke="#000" stroke-width="1.8" />
<text x="1468.84" y="1189.6" font-size="23.5" text-anchor="middle" font-weight="normal" fill="#231F20" >50</text>
<line x1="1524.87" y1="1157.7" x2="1524.87" y2="1169.3" stroke="#000" stroke-width="1.8" />
<text x="1524.87" y="1189.6" font-size="23.5" text-anchor="middle" font-weight="normal" fill="#231F20" >60</text>
<text x="1357.2" y="1218" font-size="23.7" text-anchor="middle" font-weight="bold" fill="#231F20" >CH<tspan font-size="15" dy="8">4</tspan><tspan dy="-8"> (μmol)</tspan></text>
<line x1="1580.9" y1="1157.7" x2="1580.9" y2="1169.3" stroke="#000" stroke-width="1.8" />
<text x="1580.9" y="1189.6" font-size="23.5" text-anchor="middle" font-weight="normal" fill="#231F20" >0</text>
<line x1="1636.96" y1="1157.7" x2="1636.96" y2="1169.3" stroke="#000" stroke-width="1.8" />
<text x="1636.96" y="1189.6" font-size="23.5" text-anchor="middle" font-weight="normal" fill="#231F20" >50</text>
<line x1="1693.01" y1="1157.7" x2="1693.01" y2="1169.3" stroke="#000" stroke-width="1.8" />
<text x="1693.01" y="1189.6" font-size="23.5" text-anchor="middle" font-weight="normal" fill="#231F20" >100</text>
<line x1="1749.07" y1="1157.7" x2="1749.07" y2="1169.3" stroke="#000" stroke-width="1.8" />
<text x="1749.07" y="1189.6" font-size="23.5" text-anchor="middle" font-weight="normal" fill="#231F20" >150</text>
<line x1="1805.13" y1="1157.7" x2="1805.13" y2="1169.3" stroke="#000" stroke-width="1.8" />
<text x="1805.13" y="1189.6" font-size="23.5" text-anchor="middle" font-weight="normal" fill="#231F20" >200</text>
<line x1="1861.19" y1="1157.7" x2="1861.19" y2="1169.3" stroke="#000" stroke-width="1.8" />
<text x="1861.19" y="1189.6" font-size="23.5" text-anchor="middle" font-weight="normal" fill="#231F20" >250</text>
<line x1="1917.24" y1="1157.7" x2="1917.24" y2="1169.3" stroke="#000" stroke-width="1.8" />
<text x="1917.24" y="1189.6" font-size="23.5" text-anchor="middle" font-weight="normal" fill="#231F20" >300</text>
<line x1="1973.3" y1="1157.7" x2="1973.3" y2="1169.3" stroke="#000" stroke-width="1.8" />
<text x="1973.3" y="1189.6" font-size="23.5" text-anchor="middle" font-weight="normal" fill="#231F20" >350</text>
<text x="1777.5" y="1218" font-size="23.7" text-anchor="middle" font-weight="bold" fill="#231F20" >HCOO<tspan font-size="15" dy="-8">–</tspan><tspan dy="8"> (μmol)</tspan></text>
<rect x="404.5" y="709.3" width="1568.8" height="448.4000000000001" fill="none" stroke="#000" stroke-width="2.4"/>
<line x1="796.6" y1="709.3" x2="796.6" y2="1157.7" stroke="#000" stroke-width="2.4" />
<line x1="1188.7" y1="709.3" x2="1188.7" y2="1157.7" stroke="#000" stroke-width="2.4" />
<line x1="1580.9" y1="709.3" x2="1580.9" y2="1157.7" stroke="#000" stroke-width="2.4" />
<text x="392.8" y="745.85" font-size="27.6" text-anchor="end" font-weight="bold" fill="#231F20" >w H<tspan font-size="16" dy="9.8">2</tspan><tspan dy="-9.8">S, w H</tspan><tspan font-size="16" dy="9.8">2</tspan><tspan dy="-9.8">, w MoS</tspan><tspan font-size="16" dy="9.8">2</tspan><tspan dy="-9.8">, 3 d</tspan></text>
<rect x="404.0" y="723.1" width="70.23" height="28.3" fill="#ED1C24"/>
<text x="392.8" y="801.87" font-size="27.6" text-anchor="end" font-weight="bold" fill="#231F20" >w H<tspan font-size="16" dy="9.8">2</tspan><tspan dy="-9.8">S, w H</tspan><tspan font-size="16" dy="9.8">2</tspan><tspan dy="-9.8">, w MoS</tspan><tspan font-size="16" dy="9.8">2</tspan><tspan dy="-9.8">, 7 d</tspan></text>
<rect x="404.0" y="779.12" width="185.84" height="28.3" fill="#ED1C24"/>
<text x="392.8" y="857.89" font-size="27.6" text-anchor="end" font-weight="bold" fill="#231F20" >w H<tspan font-size="16" dy="9.8">2</tspan><tspan dy="-9.8">S, w H</tspan><tspan font-size="16" dy="9.8">2</tspan><tspan dy="-9.8">, w MoS</tspan><tspan font-size="16" dy="9.8">2</tspan><tspan dy="-9.8">, 14 d</tspan></text>
<rect x="404.0" y="835.14" width="329.21" height="28.3" fill="#ED1C24"/>
<text x="392.8" y="913.91" font-size="27.6" text-anchor="end" font-weight="bold" fill="#231F20" >w/o H<tspan font-size="16" dy="9.8">2</tspan><tspan dy="-9.8">S, w H</tspan><tspan font-size="16" dy="9.8">2</tspan><tspan dy="-9.8">, w MoS</tspan><tspan font-size="16" dy="9.8">2</tspan><tspan dy="-9.8">, 7 d</tspan></text>
<rect x="404.2" y="891.16" width="1.0" height="28.3" fill="#ED1C24" fill-opacity="0.55"/>
<text x="392.8" y="969.93" font-size="27.6" text-anchor="end" font-weight="bold" fill="#231F20" >w H<tspan font-size="16" dy="9.8">2</tspan><tspan dy="-9.8">S, w/o H</tspan><tspan font-size="16" dy="9.8">2</tspan><tspan dy="-9.8">, w MoS</tspan><tspan font-size="16" dy="9.8">2</tspan><tspan dy="-9.8">, 7 d</tspan></text>
<rect x="404.0" y="947.18" width="2.6" height="28.3" fill="#ED1C24"/>
<text x="392.8" y="1025.95" font-size="27.6" text-anchor="end" font-weight="bold" fill="#231F20" >w H<tspan font-size="16" dy="9.8">2</tspan><tspan dy="-9.8">S, w H</tspan><tspan font-size="16" dy="9.8">2</tspan><tspan dy="-9.8">, w/o MoS</tspan><tspan font-size="16" dy="9.8">2</tspan><tspan dy="-9.8">, 7 d</tspan></text>
<text x="392.8" y="1081.97" font-size="27.6" text-anchor="end" font-weight="bold" fill="#231F20" >w H<tspan font-size="16" dy="9.8">2</tspan><tspan dy="-9.8">S, w H</tspan><tspan font-size="16" dy="9.8">2</tspan><tspan dy="-9.8">, w FeS, 7 d</tspan></text>
<rect x="404.2" y="1059.22" width="1.0" height="28.3" fill="#ED1C24" fill-opacity="0.55"/>
<text x="392.8" y="1137.99" font-size="27.6" text-anchor="end" font-weight="bold" fill="#231F20" >w H<tspan font-size="16" dy="9.8">2</tspan><tspan dy="-9.8">S, w H</tspan><tspan font-size="16" dy="9.8">2</tspan><tspan dy="-9.8">, w Komatiite, 7 d</tspan></text>
<rect x="404.2" y="1115.24" width="1.0" height="28.3" fill="#ED1C24" fill-opacity="0.55"/>
<line x1="463.66" y1="737.25" x2="484.79" y2="737.25" stroke="#231F20" stroke-width="1.3" />
<line x1="463.66" y1="729.15" x2="463.66" y2="745.35" stroke="#231F20" stroke-width="1.3" />
<line x1="484.79" y1="729.15" x2="484.79" y2="745.35" stroke="#231F20" stroke-width="1.3" />
<line x1="976.97" y1="737.25" x2="1041.01" y2="737.25" stroke="#231F20" stroke-width="1.3" />
<line x1="976.97" y1="729.15" x2="976.97" y2="745.35" stroke="#231F20" stroke-width="1.3" />
<line x1="1041.01" y1="729.15" x2="1041.01" y2="745.35" stroke="#231F20" stroke-width="1.3" />
<line x1="1196.99" y1="737.25" x2="1200.69" y2="737.25" stroke="#231F20" stroke-width="1.3" />
<line x1="1196.99" y1="729.15" x2="1196.99" y2="745.35" stroke="#231F20" stroke-width="1.3" />
<line x1="1200.69" y1="729.15" x2="1200.69" y2="745.35" stroke="#231F20" stroke-width="1.3" />
<line x1="1863.43" y1="737.25" x2="1962.09" y2="737.25" stroke="#231F20" stroke-width="1.3" />
<line x1="1863.43" y1="729.15" x2="1863.43" y2="745.35" stroke="#231F20" stroke-width="1.3" />
<line x1="1962.09" y1="729.15" x2="1962.09" y2="745.35" stroke="#231F20" stroke-width="1.3" />
<line x1="561.76" y1="793.27" x2="617.61" y2="793.27" stroke="#231F20" stroke-width="1.3" />
<line x1="561.76" y1="785.17" x2="561.76" y2="801.37" stroke="#231F20" stroke-width="1.3" />
<line x1="617.61" y1="785.17" x2="617.61" y2="801.37" stroke="#231F20" stroke-width="1.3" />
<line x1="1000.49" y1="793.27" x2="1073.42" y2="793.27" stroke="#231F20" stroke-width="1.3" />
<line x1="1000.49" y1="785.17" x2="1000.49" y2="801.37" stroke="#231F20" stroke-width="1.3" />
<line x1="1073.42" y1="785.17" x2="1073.42" y2="801.37" stroke="#231F20" stroke-width="1.3" />
<line x1="1224.56" y1="793.27" x2="1236.88" y2="793.27" stroke="#231F20" stroke-width="1.3" />
<line x1="1224.56" y1="785.17" x2="1224.56" y2="801.37" stroke="#231F20" stroke-width="1.3" />
<line x1="1236.88" y1="785.17" x2="1236.88" y2="801.37" stroke="#231F20" stroke-width="1.3" />
<line x1="1827.55" y1="793.27" x2="1913.88" y2="793.27" stroke="#231F20" stroke-width="1.3" />
<line x1="1827.55" y1="785.17" x2="1827.55" y2="801.37" stroke="#231F20" stroke-width="1.3" />
<line x1="1913.88" y1="785.17" x2="1913.88" y2="801.37" stroke="#231F20" stroke-width="1.3" />
<line x1="684.01" y1="849.29" x2="782.41" y2="849.29" stroke="#231F20" stroke-width="1.3" />
<line x1="684.01" y1="841.19" x2="684.01" y2="857.39" stroke="#231F20" stroke-width="1.3" />
<line x1="782.41" y1="841.19" x2="782.41" y2="857.39" stroke="#231F20" stroke-width="1.3" />
<line x1="941.15" y1="849.29" x2="992.65" y2="849.29" stroke="#231F20" stroke-width="1.3" />
<line x1="941.15" y1="841.19" x2="941.15" y2="857.39" stroke="#231F20" stroke-width="1.3" />
<line x1="992.65" y1="841.19" x2="992.65" y2="857.39" stroke="#231F20" stroke-width="1.3" />
<line x1="1315.88" y1="849.29" x2="1360.71" y2="849.29" stroke="#231F20" stroke-width="1.3" />
<line x1="1315.88" y1="841.19" x2="1315.88" y2="857.39" stroke="#231F20" stroke-width="1.3" />
<line x1="1360.71" y1="841.19" x2="1360.71" y2="857.39" stroke="#231F20" stroke-width="1.3" />
<line x1="1745.71" y1="849.29" x2="1804.01" y2="849.29" stroke="#231F20" stroke-width="1.3" />
<line x1="1745.71" y1="841.19" x2="1745.71" y2="857.39" stroke="#231F20" stroke-width="1.3" />
<line x1="1804.01" y1="841.19" x2="1804.01" y2="857.39" stroke="#231F20" stroke-width="1.3" />
<line x1="1074.73" y1="905.31" x2="1173.54" y2="905.31" stroke="#231F20" stroke-width="1.3" />
<line x1="1074.73" y1="897.21" x2="1074.73" y2="913.41" stroke="#231F20" stroke-width="1.3" />
<line x1="1173.54" y1="897.21" x2="1173.54" y2="913.41" stroke="#231F20" stroke-width="1.3" />
<line x1="1461.56" y1="905.31" x2="1557.93" y2="905.31" stroke="#231F20" stroke-width="1.3" />
<line x1="1461.56" y1="897.21" x2="1461.56" y2="913.41" stroke="#231F20" stroke-width="1.3" />
<line x1="1557.93" y1="897.21" x2="1557.93" y2="913.41" stroke="#231F20" stroke-width="1.3" />
<line x1="1599.74" y1="905.31" x2="1605.9" y2="905.31" stroke="#231F20" stroke-width="1.3" />
<line x1="1599.74" y1="897.21" x2="1599.74" y2="913.41" stroke="#231F20" stroke-width="1.3" />
<line x1="1605.9" y1="897.21" x2="1605.9" y2="913.41" stroke="#231F20" stroke-width="1.3" />
<line x1="1584.82" y1="1017.35" x2="1586.39" y2="1017.35" stroke="#231F20" stroke-width="1.3" />
<line x1="1584.82" y1="1009.25" x2="1584.82" y2="1025.45" stroke="#231F20" stroke-width="1.3" />
<line x1="1586.39" y1="1009.25" x2="1586.39" y2="1025.45" stroke="#231F20" stroke-width="1.3" />
<line x1="848.88" y1="1073.37" x2="869.79" y2="1073.37" stroke="#231F20" stroke-width="1.3" />
<line x1="848.88" y1="1065.27" x2="848.88" y2="1081.47" stroke="#231F20" stroke-width="1.3" />
<line x1="869.79" y1="1065.27" x2="869.79" y2="1081.47" stroke="#231F20" stroke-width="1.3" />
<line x1="1623.73" y1="1073.37" x2="1638.98" y2="1073.37" stroke="#231F20" stroke-width="1.3" />
<line x1="1623.73" y1="1065.27" x2="1623.73" y2="1081.47" stroke="#231F20" stroke-width="1.3" />
<line x1="1638.98" y1="1065.27" x2="1638.98" y2="1081.47" stroke="#231F20" stroke-width="1.3" />
<line x1="803.92" y1="1129.39" x2="807.58" y2="1129.39" stroke="#231F20" stroke-width="1.3" />
<line x1="803.92" y1="1121.29" x2="803.92" y2="1137.49" stroke="#231F20" stroke-width="1.3" />
<line x1="807.58" y1="1121.29" x2="807.58" y2="1137.49" stroke="#231F20" stroke-width="1.3" />
<line x1="1589.2" y1="1129.39" x2="1593.68" y2="1129.39" stroke="#231F20" stroke-width="1.3" />
<line x1="1589.2" y1="1121.29" x2="1589.2" y2="1137.49" stroke="#231F20" stroke-width="1.3" />
<line x1="1593.68" y1="1121.29" x2="1593.68" y2="1137.49" stroke="#231F20" stroke-width="1.3" />
</svg>
</body></html>
